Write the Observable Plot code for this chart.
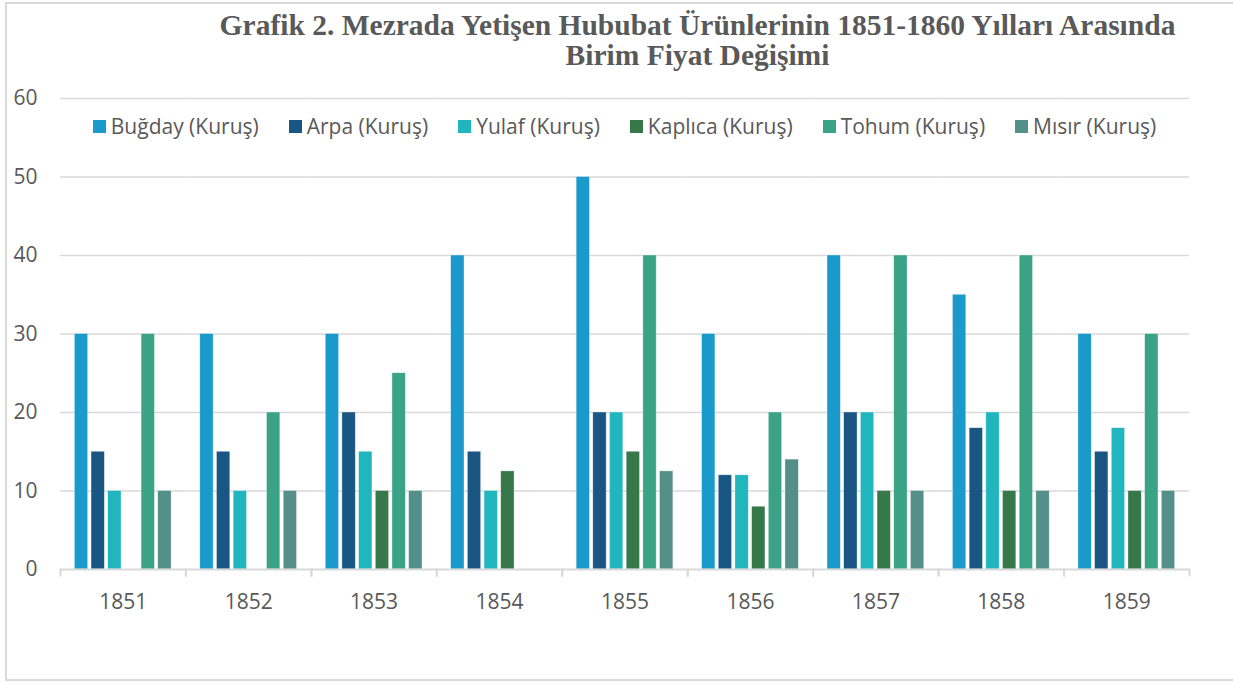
<!DOCTYPE html>
<html>
<head>
<meta charset="utf-8">
<script src="https://cdn.jsdelivr.net/npm/d3@7"></script>
<script src="https://cdn.jsdelivr.net/npm/@observablehq/plot@0.6"></script>
<style>
  html, body { margin: 0; padding: 0; background: #fff; }
  #wrap { position: relative; width: 1233px; height: 683px; overflow: hidden; background: #fff; }
  #border { position: absolute; left: 5px; top: 2px; width: 1240px; height: 679px; border: 2px solid #d9d9d9; box-sizing: border-box; }
  #title { position: absolute; left: 0; top: 10px; width: 1233px; padding-left: 162px; box-sizing: border-box; text-align: center;
           font-family: "Liberation Serif", "Times New Roman", serif; font-weight: bold; font-size: 29.5px; line-height: 30px; color: #595959; }
  #legend { position: absolute; left: 60px; width: 1129px; top: 112px; display: flex; justify-content: center; gap: 30px;
            font-family: "Open Sans", Lato, sans-serif; font-size: 21px; color: #595959; }
  .item { display: flex; align-items: center; gap: 5px; white-space: nowrap; }
  .sw { width: 13px; height: 13px; display: inline-block; }
  #chart { position: absolute; left: 0; top: 0; }
</style>
</head>
<body>
<div id="wrap">
  <div id="border"></div>
  <div id="chart"></div>
  <div id="title">Grafik 2. Mezrada Yetişen Hububat Ürünlerinin 1851-1860 Yılları Arasında<br>Birim Fiyat Değişimi</div>
  <div id="legend"></div>
</div>
<script>
const years = ["1851","1852","1853","1854","1855","1856","1857","1858","1859"];
const series = ["Buğday (Kuruş)","Arpa (Kuruş)","Yulaf (Kuruş)","Kaplıca (Kuruş)","Tohum (Kuruş)","Mısır (Kuruş)"];
const colors = ["#1a9acb","#1a5683","#21b6be","#37784a","#3aa385","#548f89"];
const bugday  = [30, 30, 30, 40, 50, 30, 40, 35, 30];
const arpa    = [15, 15, 20, 15, 20, 12, 20, 18, 15];
const yulaf   = [10, 10, 15, 10, 20, 12, 20, 20, 18];
const kaplica = [null, null, 10, 12.5, 15, 8, 10, 10, 10];
const tohum   = [30, 20, 25, null, 40, 20, 40, 40, 30];
const misir   = [10, 10, 10, null, 12.5, 14, 10, 10, 10];
const yTicks = [0, 10, 20, 30, 40, 50, 60];

const valuesBySeries = [bugday, arpa, yulaf, kaplica, tohum, misir];
const data = [];
years.forEach((yr, i) => {
  series.forEach((s, j) => {
    const v = valuesBySeries[j][i];
    if (v != null) data.push({year: yr, series: s, value: v});
  });
});

const W = 1233, H = 640, mt = 98, mb = H - 569, ml = 60, mr = 1233 - 1189;
const innerH = H - mt - mb;

const chart = Plot.plot({
  width: W,
  height: H,
  marginTop: mt,
  marginBottom: mb,
  marginLeft: ml,
  marginRight: mr,
  style: {fontFamily: "'Open Sans', Lato, sans-serif", fontSize: "21px", color: "#595959", background: "transparent"},
  fx: {domain: years, padding: 0, round: false, label: null},
  x: {domain: series, paddingInner: 0.2, paddingOuter: 0.86, round: false, axis: null},
  y: {domain: [0, 60], ticks: yTicks, label: null},
  color: {domain: series, range: colors},
  marks: [
    Plot.gridY(yTicks.filter(t => t > 0), {stroke: "#d9d9d9", strokeOpacity: 1, strokeWidth: 1.5}),
    Plot.axisY(yTicks, {tickSize: 0, tickPadding: 23, fontSize: 21, fill: "#595959", label: null}),
    Plot.axisFx({anchor: "bottom", tickSize: 0, tickPadding: 25, fontSize: 21, fill: "#595959", label: null}),
    Plot.barY(data, {fx: "year", x: "series", y: "value", fill: "series", stroke: "#ffffff", strokeWidth: 0.6, strokeOpacity: 0.6}),
    Plot.ruleY([0], {stroke: "#d9d9d9", strokeWidth: 2}),
    Plot.frame({anchor: "left", stroke: "#d9d9d9", strokeWidth: 2, insetTop: innerH, insetBottom: -6}),
    Plot.frame({anchor: "right", stroke: "#d9d9d9", strokeWidth: 2, insetTop: innerH, insetBottom: -6})
  ]
});
document.getElementById("chart").appendChild(chart);

const legend = document.getElementById("legend");
series.forEach((s, j) => {
  const it = document.createElement("div");
  it.className = "item";
  const sw = document.createElement("span");
  sw.className = "sw";
  sw.style.background = colors[j];
  const t = document.createElement("span");
  t.textContent = s;
  it.appendChild(sw); it.appendChild(t);
  legend.appendChild(it);
});
</script>
</body>
</html>
